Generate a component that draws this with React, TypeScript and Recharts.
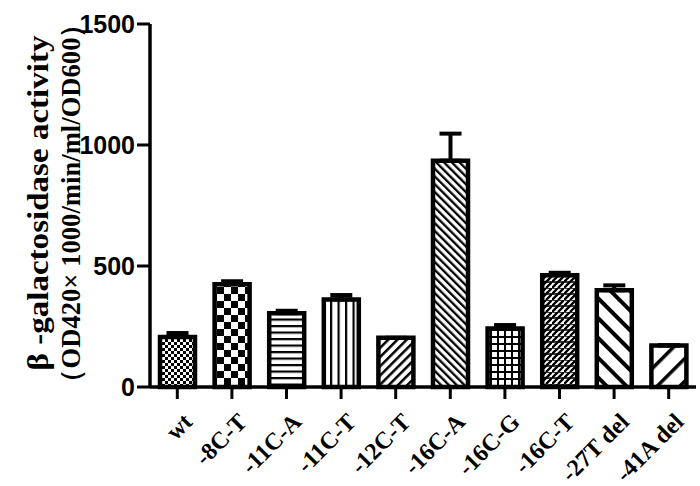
import React from 'react';
import { BarChart, Bar, XAxis, YAxis, Cell, ErrorBar, Label } from 'recharts';

const categories = ['wt', '-8C-T', '-11C-A', '-11C-T', '-12C-T', '-16C-A', '-16C-G', '-16C-T', '-27T del', '-41A del'];
const activity = [207, 425, 305, 362, 203, 935, 242, 462, 400, 172];
const errors = [16, 12, 10, 18, 0, 112, 14, 10, 20, 0];
const yTicks = [0, 500, 1000, 1500];

const data = categories.map((name, i) => ({ name, value: activity[i], err: [0, errors[i]] }));

const serif = '"Liberation Serif", "Times New Roman", serif';
const sans = '"Liberation Sans", Arial, sans-serif';

const XTick = (props: any) => {
  const { x, y, payload } = props;
  const ax = x + 5;
  const ay = y + 11;
  return (
    <text
      x={ax}
      y={ay}
      transform={`rotate(-45, ${ax}, ${ay})`}
      textAnchor="end"
      dy={16}
      fontFamily={serif}
      fontWeight="bold"
      fontSize={24}
      fill="#000"
    >
      {payload.value}
    </text>
  );
};

const YTick = (props: any) => {
  const { x, y, payload } = props;
  return (
    <text
      x={x}
      y={y}
      dy={9}
      textAnchor="end"
      fontFamily={sans}
      fontWeight="bold"
      fontSize={25}
      fill="#000"
    >
      {payload.value}
    </text>
  );
};

const YTitle = () => (
  <g>
    <text
      x={48}
      y={203}
      transform="rotate(-90, 48, 203)"
      textAnchor="middle"
      fontFamily={serif}
      fontWeight="bold"
      fontSize={29}
      textLength={335}
      lengthAdjust="spacingAndGlyphs"
      fill="#000"
    >
      β -galactosidase activity
    </text>
    <text
      x={80}
      y={203}
      transform="rotate(-90, 80, 203)"
      textAnchor="middle"
      fontFamily={serif}
      fontWeight="bold"
      fontSize={26.5}
      textLength={385}
      lengthAdjust="spacing"
      fill="#000"
    >
      （OD420× 1000/min/ml/OD600）
    </text>
  </g>
);

const Patterns = () => (
  <defs>
    <pattern id="p0" width={6} height={6} patternUnits="userSpaceOnUse">
      <rect width={6} height={6} fill="#fff" />
      <rect x={0} y={0} width={3} height={3} fill="#000" />
      <rect x={3} y={3} width={3} height={3} fill="#000" />
    </pattern>
    <pattern id="p1" width={14} height={14} patternUnits="userSpaceOnUse">
      <rect width={14} height={14} fill="#fff" />
      <rect x={0} y={0} width={7} height={7} fill="#000" />
      <rect x={7} y={7} width={7} height={7} fill="#000" />
    </pattern>
    <pattern id="p2" width={7} height={6.5} patternUnits="userSpaceOnUse">
      <rect width={7} height={6.5} fill="#fff" />
      <rect x={0} y={0} width={7} height={2.2} fill="#000" />
    </pattern>
    <pattern id="p3" width={7.5} height={7} patternUnits="userSpaceOnUse">
      <rect width={7.5} height={7} fill="#fff" />
      <rect x={0} y={0} width={2.2} height={7} fill="#000" />
    </pattern>
    <pattern id="p4" width={6.5} height={10} patternUnits="userSpaceOnUse" patternTransform="rotate(45)">
      <rect width={6.5} height={10} fill="#fff" />
      <rect x={0} y={0} width={2.5} height={10} fill="#000" />
    </pattern>
    <pattern id="p5" width={5.5} height={10} patternUnits="userSpaceOnUse" patternTransform="rotate(-45)">
      <rect width={5.5} height={10} fill="#fff" />
      <rect x={0} y={0} width={2.3} height={10} fill="#000" />
    </pattern>
    <pattern id="p6" width={7} height={7} patternUnits="userSpaceOnUse">
      <rect width={7} height={7} fill="#fff" />
      <rect x={0} y={0} width={7} height={2} fill="#000" />
      <rect x={0} y={0} width={2} height={7} fill="#000" />
    </pattern>
    <pattern id="p7" width={12} height={12} patternUnits="userSpaceOnUse">
      <rect width={12} height={12} fill="#fff" />
      <path d="M0 6 L6 0 M6 12 L12 6 M0 12 L12 0" stroke="#000" strokeWidth={2.4} />
      <path d="M0 6 L12 6 M0 0 L12 0" stroke="#000" strokeWidth={1.6} />
    </pattern>
    <pattern id="p8" width={14} height={10} patternUnits="userSpaceOnUse" patternTransform="rotate(-45)">
      <rect width={14} height={10} fill="#fff" />
      <rect x={0} y={0} width={4} height={10} fill="#000" />
    </pattern>
    <pattern id="p9" width={16} height={10} patternUnits="userSpaceOnUse" patternTransform="rotate(45)">
      <rect width={16} height={10} fill="#fff" />
      <rect x={0} y={0} width={3.5} height={10} fill="#000" />
    </pattern>
  </defs>
);

export default function App() {
  return (
    <div style={{ position: 'absolute', left: 0, top: 0, width: 700, height: 486, background: '#fff' }}>
      <BarChart
        width={700}
        height={486}
        data={data}
        margin={{ top: 24, right: 4, bottom: 0, left: 0 }}
      >
        <Patterns />
        <XAxis
          dataKey="name"
          height={99}
          interval={0}
          axisLine={{ stroke: '#000', strokeWidth: 3.5 }}
          tickLine={{ stroke: '#000', strokeWidth: 3 }}
          tickSize={12}
          tick={<XTick />}
        />
        <YAxis
          width={150}
          domain={[0, 1500]}
          ticks={yTicks}
          interval={0}
          axisLine={{ stroke: '#000', strokeWidth: 3.5 }}
          tickLine={{ stroke: '#000', strokeWidth: 3 }}
          tickSize={13}
          tick={<YTick />}
        >
          <Label content={<YTitle />} />
        </YAxis>
        <Bar dataKey="value" barSize={35} stroke="#000" strokeWidth={4.5} isAnimationActive={false}>
          {data.map((d, i) => (
            <Cell key={d.name} fill={`url(#p${i})`} />
          ))}
          <ErrorBar dataKey="err" width={11} stroke="#000" strokeWidth={4} direction="y" />
        </Bar>
      </BarChart>
    </div>
  );
}
